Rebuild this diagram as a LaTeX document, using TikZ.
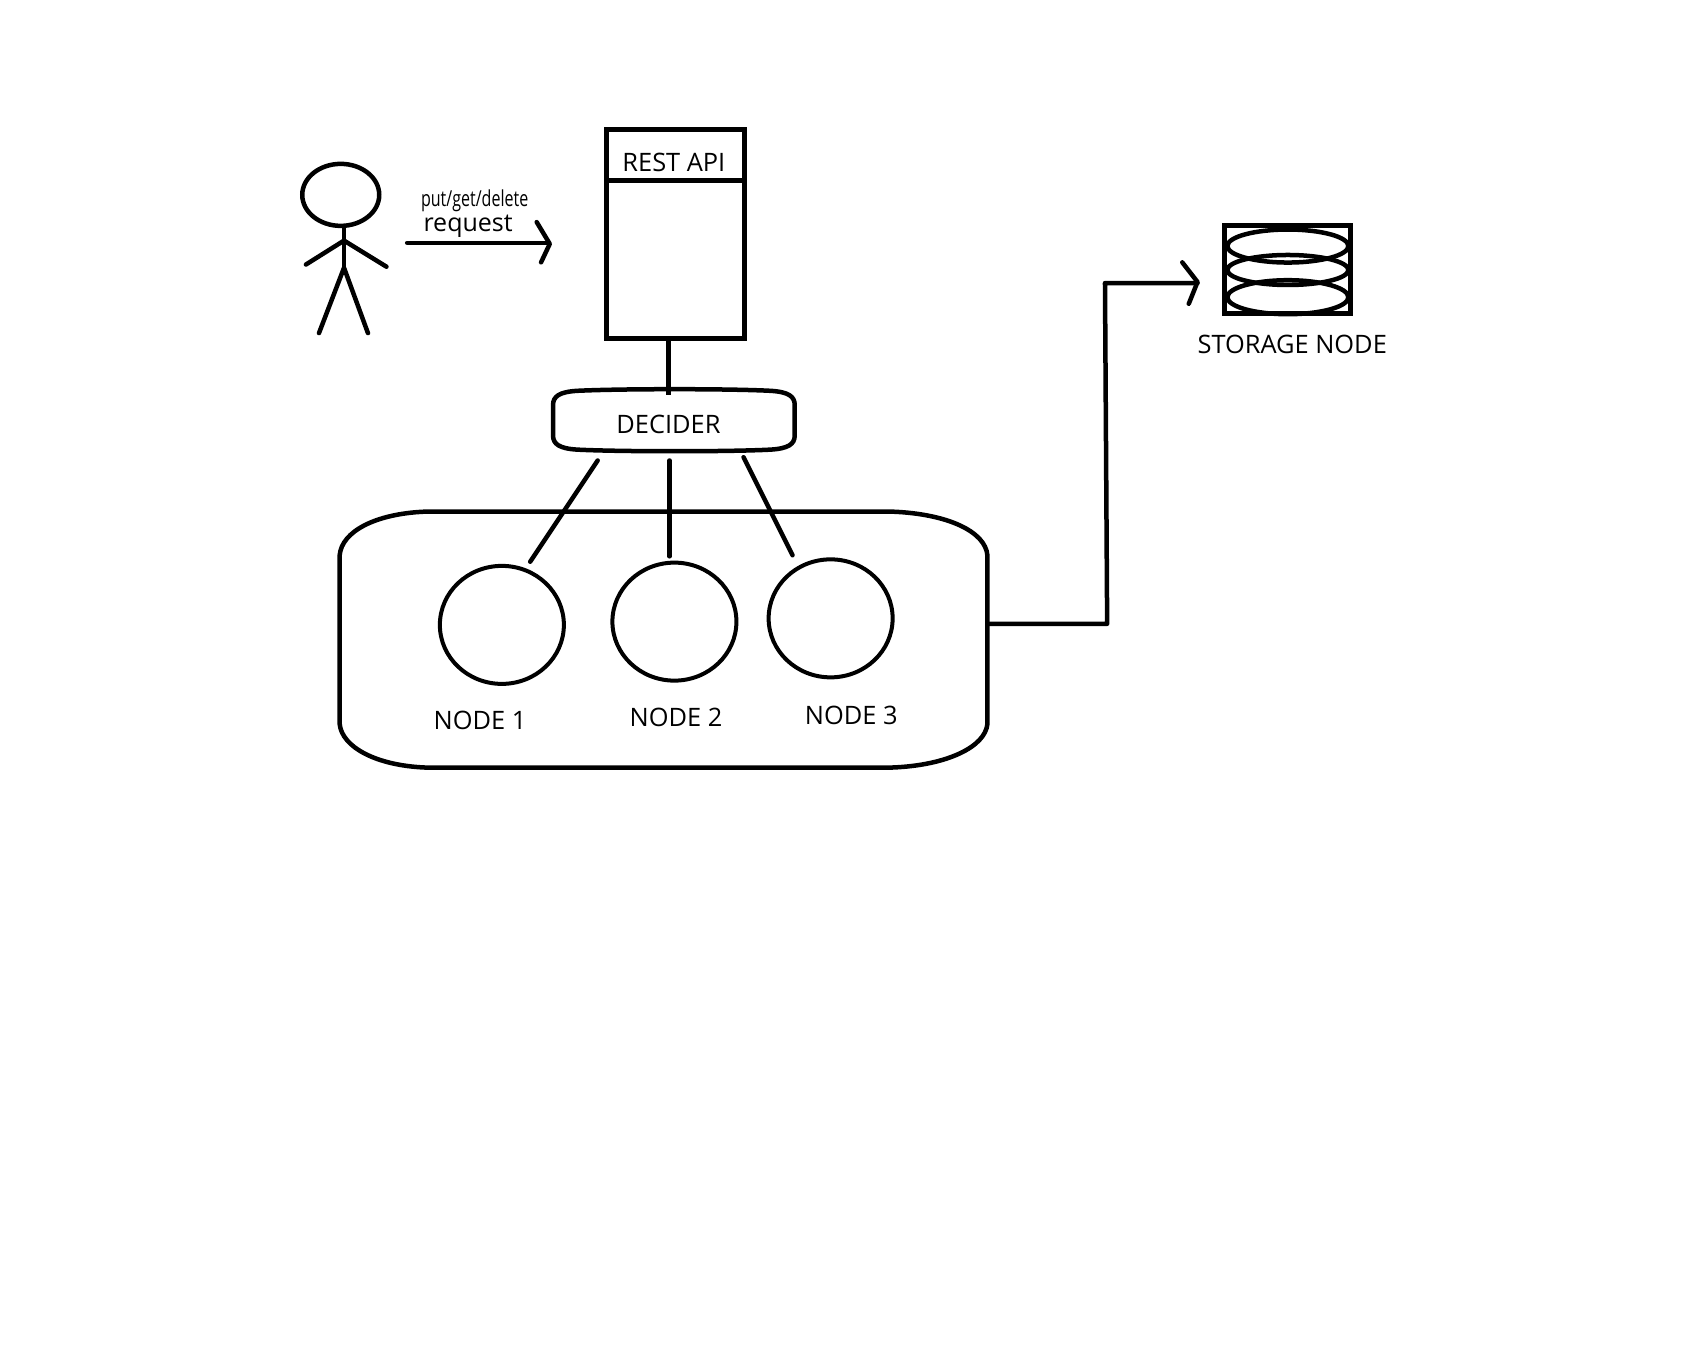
\documentclass[tikz,border=0pt]{standalone}
\usepackage{fontspec}
\setmainfont{Open Sans}
\usetikzlibrary{shapes.geometric}
\tikzset{
  ink/.style={line width=4.5pt,line cap=round,line join=round},
  thinring/.style={draw,ellipse,line width=4pt,inner sep=0pt,minimum width=124pt,minimum height=118pt},
  disk/.style={draw,ellipse,line width=4.5pt,inner sep=0pt,minimum width=121pt},
  lab/.style={inner sep=0pt,font=\fontsize{25.4}{28}\selectfont}
}
\begin{document}
\begin{tikzpicture}[x=1.0886pt,y=-1.0886pt]
\useasboundingbox (0,0) rectangle (1568,1244);
% person
\node[draw,ellipse,line width=4.5pt,inner sep=0pt,minimum width=77pt,minimum height=62pt] (head) at (313,179) {};
\coordinate (hip) at (316,246);
\coordinate (neck) at (316,221);
\coordinate (lh) at (281,243);
\coordinate (rh) at (355,245);
\coordinate (lf) at (293,306);
\coordinate (rf) at (338,306);
\draw[ink] (316,208) -- (hip);
\draw[ink] (lh) -- (neck) -- (rh);
\draw[ink] (lf) -- (hip) -- (rf);
% request arrow
\coordinate (reqa) at (374,223);
\coordinate (reqb) at (504,223);
\draw[ink] (reqa) -- (reqb);
\draw[ink] (493,204) -- (505,224) -- (497,241);
\node[inner sep=0pt,font=\fontsize{22}{24}\selectfont] (pgd) at (436,184.5) {\scalebox{.73}[1]{put/get/delete}};
\node[inner sep=0pt,font=\fontsize{25}{28}\selectfont] (req) at (430,207.5) {request};
% REST API
\node[draw,line width=4.5pt,inner sep=0pt,minimum width=138pt,minimum height=209pt] (api) at (620.5,215) {};
\coordinate (divl) at (557,166);
\coordinate (divr) at (685,166);
\draw[line width=4.5pt] (divl) -- (divr);
\node[lab] (apitext) at (619,149) {REST API};
% decider
\draw[ink] (530,359) .. controls (570,357) and (670,357) .. (708,359)
  .. controls (724,360) and (730,364) .. (730,372) -- (730,400)
  .. controls (730,408) and (724,412) .. (708,413)
  .. controls (670,415) and (570,415) .. (530,413)
  .. controls (514,412) and (508,408) .. (508,400) -- (508,372)
  .. controls (508,364) and (514,360) .. (530,359) -- cycle;
\node[lab] (dec) at (614,390) {DECIDER};
\coordinate (apib) at (614,311);
\coordinate (dect) at (614,363);
\draw[ink,line cap=butt] (apib) -- (dect);
% container
\draw[ink] (390,470) -- (820,470) .. controls (870,472) and (905,488) .. (907,510)
  -- (907,665) .. controls (905,686) and (870,703) .. (820,705)
  -- (390,705) .. controls (345,703) and (314,686) .. (312,665)
  -- (312,510) .. controls (314,488) and (345,472) .. (390,470) -- cycle;
% nodes
\node[thinring] (n1) at (461,574) {};
\node[thinring] (n2) at (619.5,571) {};
\node[thinring] (n3) at (763,568) {};
\node[lab] (l1) at (441,662) {NODE 1};
\node[lab] (l2) at (621,659) {NODE 2};
\node[lab] (l3) at (782,657) {NODE 3};
\coordinate (d1) at (549,423);
\coordinate (d2) at (615,423);
\coordinate (d3) at (683,420);
\coordinate (e1) at (487,516);
\coordinate (e2) at (615,511);
\coordinate (e3) at (728,510);
\draw[ink] (d1) -- (e1);
\draw[ink] (d2) -- (e2);
\draw[ink] (d3) -- (e3);
% storage
\coordinate (cs) at (907,573);
\coordinate (ct) at (1100,260);
\draw[ink] (cs) -- (1017,573) -- (1015,260) -- (ct);
\draw[ink] (1086,241) -- (1100,259) -- (1092,279);
\node[draw,line width=5pt,inner sep=0pt,minimum width=126pt,minimum height=88pt] (st) at (1182.5,248) {};
\node[disk,minimum height=33pt] (s1) at (1183,226) {};
\node[disk,minimum height=30pt] (s2) at (1183,248) {};
\node[disk,minimum height=34pt] (s3) at (1183,273) {};
\node[lab] (stl) at (1187,316) {STORAGE NODE};
\end{tikzpicture}
\end{document}
